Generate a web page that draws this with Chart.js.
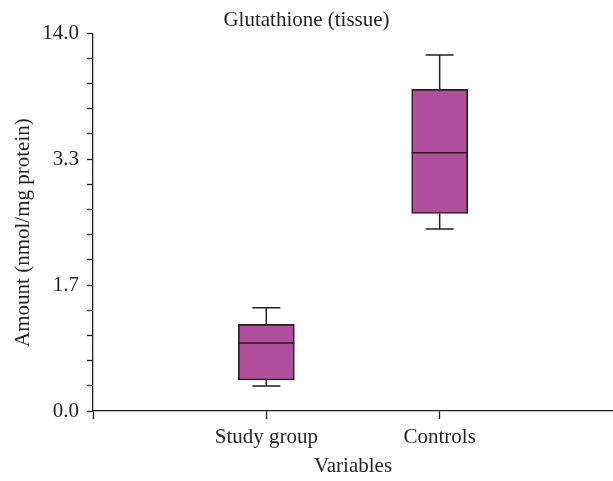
<!DOCTYPE html>
<html>
<head>
<meta charset="utf-8">
<script src="https://cdn.jsdelivr.net/npm/chart.js@4"></script>
<style>
  html, body { margin: 0; padding: 0; background: #fff; }
  #wrap { width: 613px; height: 481px; }
</style>
</head>
<body>
<div id="wrap"><canvas id="myChart"></canvas></div>
<script>
// categories on the x axis (blank slots at both ends give the empty margins)
const categories = ['Study group', 'Controls'];
// box plot values, in axis positions (the y axis has 15 equal steps,
// labelled every 5 steps with the values below)
const whiskerLow = [0.99, 7.23];
const q1 = [1.23, 7.84];
const median = [2.70, 10.25];
const q3 = [3.44, 12.77];
const whiskerHigh = [4.10, 14.13];
const yTickLabels = ['0.0', '1.7', '3.3', '14.0'];

const ctx = document.getElementById('myChart');
const fontFamily = "'Liberation Serif', 'DejaVu Serif', serif";
const fontSize = 21;
const ink = '#231f20';

const xLabels = [''].concat(categories, ['']);
const boxData = [null].concat(categories.map((c, i) => [q1[i], q3[i]]), [null]);

// whiskers, caps and median line
const whiskerPlugin = {
    id: 'whiskers',
    afterDatasetsDraw(chart) {
        const c = chart.ctx;
        const y = chart.scales.y;
        const meta = chart.getDatasetMeta(0);
        c.save();
        c.strokeStyle = ink;
        c.lineWidth = 1.5;
        categories.forEach((cat, i) => {
            const bar = meta.data[i + 1];
            const x = bar.x;
            const half = bar.width / 2;
            const cap = 14;
            c.beginPath();
            // upper whisker
            c.moveTo(x, y.getPixelForValue(q3[i]));
            c.lineTo(x, y.getPixelForValue(whiskerHigh[i]));
            c.moveTo(x - cap, y.getPixelForValue(whiskerHigh[i]));
            c.lineTo(x + cap, y.getPixelForValue(whiskerHigh[i]));
            // lower whisker
            c.moveTo(x, y.getPixelForValue(q1[i]));
            c.lineTo(x, y.getPixelForValue(whiskerLow[i]));
            c.moveTo(x - cap, y.getPixelForValue(whiskerLow[i]));
            c.lineTo(x + cap, y.getPixelForValue(whiskerLow[i]));
            // median
            c.moveTo(x - half, y.getPixelForValue(median[i]));
            c.lineTo(x + half, y.getPixelForValue(median[i]));
            c.stroke();
        });
        c.restore();
    }
};

new Chart(ctx, {
    type: 'bar',
    data: {
        labels: xLabels,
        datasets: [{
            data: boxData,
            backgroundColor: '#b0509c',
            borderColor: ink,
            borderWidth: 1.6,
            borderSkipped: false,
            barThickness: 56,
        }]
    },
    options: {
        responsive: true,
        maintainAspectRatio: false,
        animation: false,
        layout: { padding: 0 },
        plugins: {
            legend: { display: false },
            tooltip: { enabled: false },
            title: {
                display: true,
                text: 'Glutathione (tissue)',
                color: ink,
                font: { family: fontFamily, size: fontSize, weight: 'normal' },
                padding: { top: 8, bottom: 0 }
            }
        },
        scales: {
            x: {
                type: 'category',
                offset: false,
                afterFit: s => { s.height = 70; s.paddingLeft = 0; s.paddingRight = 0; },
                grid: {
                    offset: false,
                    drawOnChartArea: false,
                    drawTicks: true,
                    tickLength: 8,
                    tickWidth: 1.3,
                    tickColor: c => c.index === 3 ? 'rgba(0,0,0,0)' : ink
                },
                border: { display: true, color: ink, width: 1.3 },
                ticks: {
                    autoSkip: false,
                    maxRotation: 0,
                    padding: 6,
                    color: ink,
                    font: { family: fontFamily, size: fontSize }
                },
                title: {
                    display: true,
                    text: 'Variables',
                    color: ink,
                    font: { family: fontFamily, size: fontSize },
                    padding: { top: 0, bottom: 2 }
                }
            },
            y: {
                min: 0,
                max: 15,
                afterFit: s => { s.width = 93; },
                grid: {
                    drawOnChartArea: false,
                    drawTicks: true,
                    tickLength: 6,
                    tickWidth: 1.3,
                    tickColor: ink
                },
                border: { display: true, color: ink, width: 1.3 },
                ticks: {
                    stepSize: 1,
                    autoSkip: false,
                    padding: 8,
                    color: ink,
                    font: { family: fontFamily, size: fontSize },
                    callback: v => v % 5 === 0 ? yTickLabels[v / 5] : ''
                },
                title: {
                    display: true,
                    // trailing spaces nudge the rotated title a little lower, as in the original
                    text: 'Amount (nmol/mg protein)    ',
                    color: ink,
                    font: { family: fontFamily, size: fontSize },
                    padding: { top: 11, bottom: 0 }
                }
            }
        }
    },
    plugins: [whiskerPlugin]
});
</script>
</body>
</html>
